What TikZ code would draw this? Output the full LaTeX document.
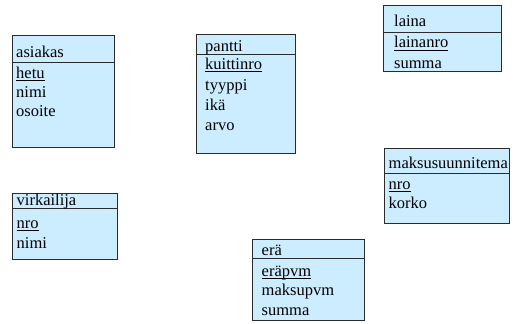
\documentclass[tikz,border=0pt]{standalone}
\usepackage{fontspec}
\setmainfont{Liberation Serif}
\definecolor{entfill}{HTML}{CCECFF}
\definecolor{edge}{HTML}{2B2B2B}
\usetikzlibrary{positioning}
\tikzset{
  entity/.style={draw=edge, fill=entfill, line width=0.9pt, anchor=north west, inner sep=0pt},
  rule/.style={draw=edge, line width=0.9pt},
  txt/.style={anchor=base west, inner sep=0pt, font=\rmfamily\fontsize{16.5}{19}\selectfont, text=black},
  keyline/.style={draw=black, line width=0.8pt},
}

\begin{document}
\begin{tikzpicture}[x=1pt, y=-1pt]
        \useasboundingbox (0,0) rectangle (523,324);
        % asiakas
        \node[entity, minimum width=102pt, minimum height=112pt] (asiakas) at (12,35) {};
        \draw[rule] (asiakas.west |- 0,62) -- (asiakas.east |- 0,62);
        \node[txt] (asiakas-t) at (16,57) {asiakas};
        \node[txt] (hetu) at (16,78) {hetu};
        \draw[keyline] ([yshift=-2.8pt]hetu.base west) -- ([yshift=-2.8pt]hetu.base east);
        \foreach \a/\y in {nimi/97, osoite/116} \node[txt] (asiakas-\a) at (16,\y) {\a};
        % pantti
        \node[entity, minimum width=99pt, minimum height=119pt] (pantti) at (196,34) {};
        \draw[rule] (pantti.west |- 0,54) -- (pantti.east |- 0,54);
        \node[txt] (pantti-t) at (205,51) {pantti};
        \node[txt] (kuittinro) at (205,69) {kuittinro};
        \draw[keyline] ([yshift=-2.8pt]kuittinro.base west) -- ([yshift=-2.8pt]kuittinro.base east);
        \foreach \a/\n/\y in {tyyppi/tyyppi/90, ikä/ika/110, arvo/arvo/130} \node[txt] (pantti-\n) at (205,\y) {\a};
        % laina
        \node[entity, minimum width=118pt, minimum height=66pt] (laina) at (383,5) {};
        \draw[rule] (laina.west |- 0,32) -- (laina.east |- 0,32);
        \node[txt] (laina-t) at (394,27) {laina};
        \node[txt] (lainanro) at (394,48) {lainanro};
        \draw[keyline] ([yshift=-2.8pt]lainanro.base west) -- ([yshift=-2.8pt]lainanro.base east);
        \node[txt] (laina-summa) at (394,68) {summa};
        % maksusuunnitema
        \node[entity, minimum width=125pt, minimum height=75pt] (maksu) at (384,148) {};
        \draw[rule] (maksu.west |- 0,173) -- (maksu.east |- 0,173);
        \node[txt] (maksu-t) at (388.5,168) {maksusuunnitema};
        \node[txt] (maksu-nro) at (388.5,189) {nro};
        \draw[keyline] ([yshift=-2.8pt]maksu-nro.base west) -- ([yshift=-2.8pt]maksu-nro.base east);
        \node[txt] (maksu-korko) at (388.5,208) {korko};
        % virkailija
        \node[entity, minimum width=105pt, minimum height=66pt] (virkailija) at (12,193) {};
        \draw[rule] (virkailija.west |- 0,208) -- (virkailija.east |- 0,208);
        \node[txt] (virkailija-t) at (16.5,205) {virkailija};
        \node[txt] (virkailija-nro) at (16.5,228) {nro};
        \draw[keyline] ([yshift=-2.8pt]virkailija-nro.base west) -- ([yshift=-2.8pt]virkailija-nro.base east);
        \node[txt] (virkailija-nimi) at (16.5,248) {nimi};
        % erä
        \node[entity, minimum width=112pt, minimum height=81pt] (era) at (252,239) {};
        \draw[rule] (era.west |- 0,258) -- (era.east |- 0,258);
        \node[txt] (era-t) at (261.5,255) {erä};
        \node[txt] (erapvm) at (261.5,276) {eräpvm};
        \draw[keyline] ([yshift=-2.8pt]erapvm.base west) -- ([yshift=-2.8pt]erapvm.base east);
        \foreach \a/\y in {maksupvm/295, summa/315} \node[txt] (era-\a) at (261.5,\y) {\a};
      \end{tikzpicture}
\end{document}
